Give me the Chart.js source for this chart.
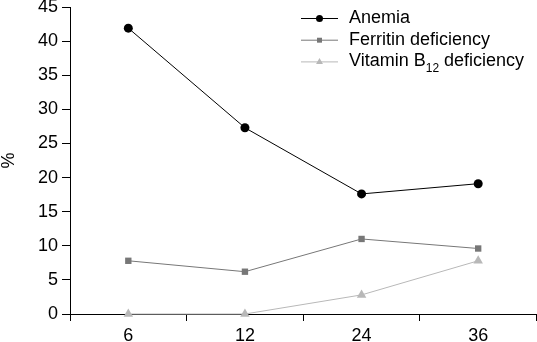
<!DOCTYPE html>
<html>
<head>
	<title>Anemia and deficiencies by age</title>
	<script src="https://cdn.jsdelivr.net/npm/chart.js"></script>
	<style>
		html, body { margin: 0; padding: 0; background: #fff; overflow: hidden; }
		#wrap { width: 542px; height: 342px; position: relative; }
	</style>
</head>
<body>
	<div id="wrap"><canvas id="chart"></canvas></div>
	<script>
		var months = ['6', '12', '24', '36'];
		var anemia = [41.9, 27.3, 17.6, 19.1];
		var ferritin = [7.8, 6.2, 11.0, 9.6];
		var vitaminB12 = [0, 0, 2.8, 7.8];
		var yTicks = [0, 5, 10, 15, 20, 25, 30, 35, 40, 45];

		var FONT = 'Liberation Sans, Arial, sans-serif';

		// legend drawn by hand so the marker sits on the line and B12 gets a subscript
		var legendPlugin = {
			id: 'lineLegend',
			afterDraw: function(chart) {
				var ctx = chart.ctx;
				var rows = [
					{ color: '#000', style: 'circle', r: 3.5, parts: [['Anemia', 0]] },
					{ color: '#777', style: 'rect', r: 3.5, parts: [['Ferritin deficiency', 0]] },
					{ color: '#b8b8b8', style: 'triangle', r: 4, parts: [['Vitamin B', 0], ['12', 1], [' deficiency', 0]] }
				];
				ctx.save();
				rows.forEach(function(row, i) {
					var y = 18 + i * 21.7;
					ctx.strokeStyle = row.color;
					ctx.lineWidth = 1;
					ctx.beginPath();
					ctx.moveTo(301, y + 0.5);
					ctx.lineTo(338, y + 0.5);
					ctx.stroke();
					ctx.fillStyle = row.color;
					Chart.helpers.drawPoint(ctx, { pointStyle: row.style, radius: row.r, borderWidth: 0 }, 319.5, y + 0.5);
					var x = 349;
					ctx.fillStyle = '#000';
					ctx.textBaseline = 'middle';
					row.parts.forEach(function(p) {
						ctx.font = (p[1] ? '12px ' : '18px ') + FONT;
						ctx.fillText(p[0], x, y + (p[1] ? 7 : 0));
						x += ctx.measureText(p[0]).width;
					});
				});
				ctx.restore();
			}
		};

		new Chart(document.getElementById('chart'), {
			type: 'line',
			data: {
				labels: months,
				datasets: [{
					label: 'Anemia',
					data: anemia,
					borderColor: '#000',
					backgroundColor: '#000',
					borderWidth: 1,
					pointStyle: 'circle',
					pointRadius: 4.5,
					pointBorderWidth: 0,
					clip: false
				}, {
					label: 'Ferritin deficiency',
					data: ferritin,
					borderColor: '#777',
					backgroundColor: '#777',
					borderWidth: 1,
					pointStyle: 'rect',
					pointRadius: 4.5,
					pointBorderWidth: 0,
					clip: false
				}, {
					label: 'Vitamin B12 deficiency',
					data: vitaminB12,
					borderColor: '#b8b8b8',
					backgroundColor: '#b8b8b8',
					borderWidth: 1,
					pointStyle: 'triangle',
					pointRadius: 5.5,
					pointBorderWidth: 0,
					clip: false
				}]
			},
			options: {
				responsive: true,
				maintainAspectRatio: false,
				animation: false,
				layout: { padding: { top: 0, right: 0, bottom: 0, left: 0 } },
				plugins: {
					legend: { display: false },
					tooltip: { enabled: false }
				},
				scales: {
					x: {
						type: 'category',
						offset: true,
						grid: { offset: true, drawOnChartArea: false, drawTicks: true, tickLength: 7, color: '#000' },
						border: { display: true, color: '#000', width: 1 },
						ticks: { color: '#000', font: { family: FONT, size: 18 }, padding: 4, maxRotation: 0 },
						afterFit: function(scale) {
							scale.height = 28;
							scale.paddingLeft = 0;
							scale.paddingRight = 0;
						}
					},
					y: {
						min: 0,
						max: 45,
						afterBuildTicks: function(scale) {
							scale.ticks = yTicks.map(function(v) { return { value: v }; });
						},
						grid: { drawOnChartArea: false, drawTicks: true, tickLength: 8, color: '#000' },
						border: { display: true, color: '#000', width: 1 },
						ticks: { color: '#000', font: { family: FONT, size: 18 }, padding: 4 },
						title: { display: true, text: '%', color: '#000', font: { family: FONT, size: 18, lineHeight: 1 }, padding: 0 },
						afterFit: function(scale) {
							scale.width = 70;
							scale.paddingTop = 7;
							scale.paddingBottom = 0;
						}
					}
				}
			},
			plugins: [legendPlugin]
		});
	</script>
</body>
</html>
